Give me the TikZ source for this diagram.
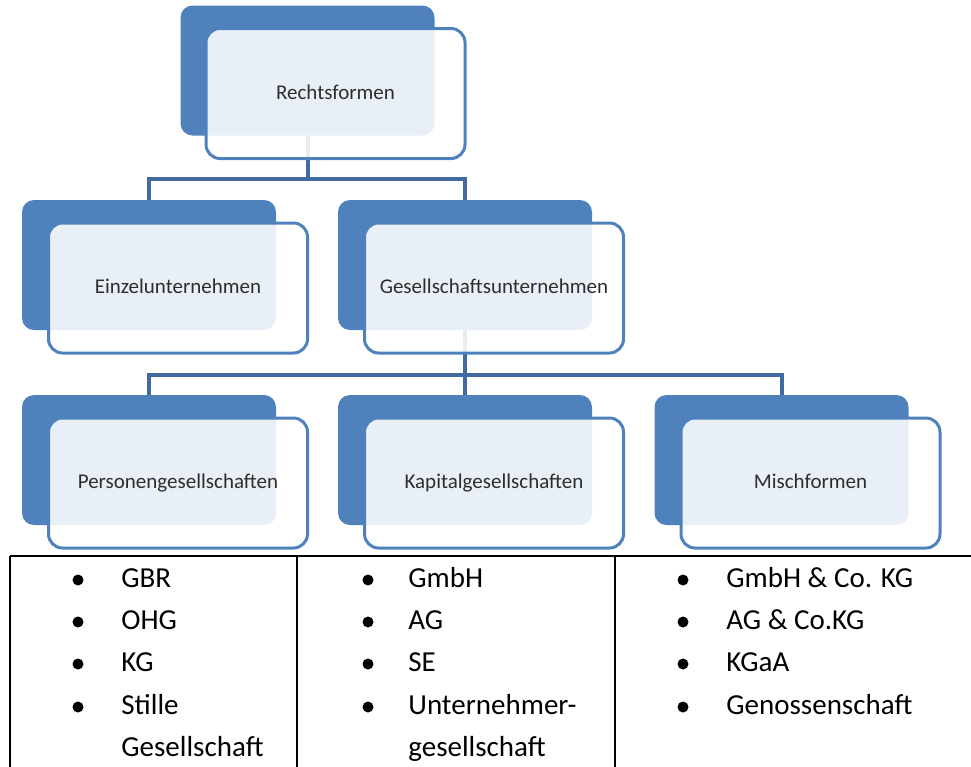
\documentclass[tikz,border=0pt]{standalone}
\usepackage{fontspec}
\setmainfont{Carlito}
\definecolor{ofblue}{RGB}{79,129,189}
\definecolor{linkblue}{RGB}{65,107,160}
\definecolor{labelgray}{RGB}{45,45,45}

\begin{document}
\begin{tikzpicture}[x=0.5pt, y=-0.5pt,
  backbox/.style={fill=ofblue, rounded corners=6pt, minimum width=127pt, minimum height=65pt, inner sep=0pt},
  frontbox/.style={draw=ofblue, line width=1.5pt, fill=white, fill opacity=0.88, text opacity=1, rounded corners=7pt, minimum width=129.5pt, minimum height=65pt, text height=1.5ex, text depth=0.25ex, text=labelgray, font=\fontsize{10.5}{12}\selectfont},
  link/.style={draw=linkblue, line width=2pt},
  item/.style={anchor=base west, inner sep=0pt, font=\fontsize{14.5}{17}\selectfont},
  dot/.style={circle, fill=black, inner sep=0pt, minimum size=5.5pt},
  tabrule/.style={line width=0.8pt}]
\useasboundingbox (0,0) rectangle (971,767);

% back boxes
\node[backbox] (rfback) at (307.5,70.5) {};
\node[backbox] (euback) at (149,265) {};
\node[backbox] (guback) at (465,265) {};
\node[backbox] (pgback) at (149,460) {};
\node[backbox] (kgback) at (465,460) {};
\node[backbox] (mfback) at (781.5,460) {};

% connectors
\draw[link] (rfback.south) -- ++(0,43) -| (euback.north);
\draw[link] (rfback.south) -- ++(0,43) -| (guback.north);
\draw[link] (guback.south) -- ++(0,45) -| (pgback.north);
\draw[link] (guback.south) -- ++(0,45) -- (kgback.north);
\draw[link] (guback.south) -- ++(0,45) -| (mfback.north);

% front boxes
\node[frontbox] (rf) at ([shift={(28,23)}]rfback.center) {Rechtsformen};
\node[frontbox] (eu) at ([shift={(29,23)}]euback.center) {Einzelunternehmen};
\node[frontbox] (gu) at ([shift={(29,23)}]guback.center) {Gesellschaftsunternehmen};
\node[frontbox] (pg) at ([shift={(29,23)}]pgback.center) {Personengesellschaften};
\node[frontbox] (kg) at ([shift={(29,23)}]kgback.center) {Kapitalgesellschaften};
\node[frontbox] (mf) at ([shift={(29,23)}]mfback.center) {Mischformen};

% table
\draw[tabrule] (10,556) -- (971,556);
\draw[tabrule] (10,556) -- (10,767);
\draw[tabrule] (297,556) -- (297,767);
\draw[tabrule] (615,556) -- (615,767);

% Personengesellschaften
\node[dot] (pgd1) at (78,580) {};
\node[item] (gbr) at (121,587) {GBR};
\node[dot] (pgd2) at (78,622) {};
\node[item] (ohg) at (121,629) {OHG};
\node[dot] (pgd3) at (78,664) {};
\node[item] (kgitem) at (121,671) {KG};
\node[dot] (pgd4) at (78,707) {};
\node[item] (stille) at (121,714) {Stille};
\node[item] (stille2) at (121,756) {Gesellschaft};

% Kapitalgesellschaften
\node[dot] (kgd1) at (368,580) {};
\node[item] (gmbh) at (408,587) {GmbH};
\node[dot] (kgd2) at (368,622) {};
\node[item] (ag) at (408,629) {AG};
\node[dot] (kgd3) at (368,664) {};
\node[item] (se) at (408,671) {SE};
\node[dot] (kgd4) at (368,707) {};
\node[item] (ug) at (408,714) {Unternehmer-};
\node[item] (ug2) at (408,756) {gesellschaft};

% Mischformen
\node[dot] (mfd1) at (683,580) {};
\node[item] (gmbhco) at (726,587) {GmbH \& Co. KG};
\node[dot] (mfd2) at (683,622) {};
\node[item] (agco) at (726,629) {AG \& Co.KG};
\node[dot] (mfd3) at (683,664) {};
\node[item] (kgaa) at (726,671) {KGaA};
\node[dot] (mfd4) at (683,707) {};
\node[item] (geno) at (726,714) {Genossenschaft};
\end{tikzpicture}
\end{document}
